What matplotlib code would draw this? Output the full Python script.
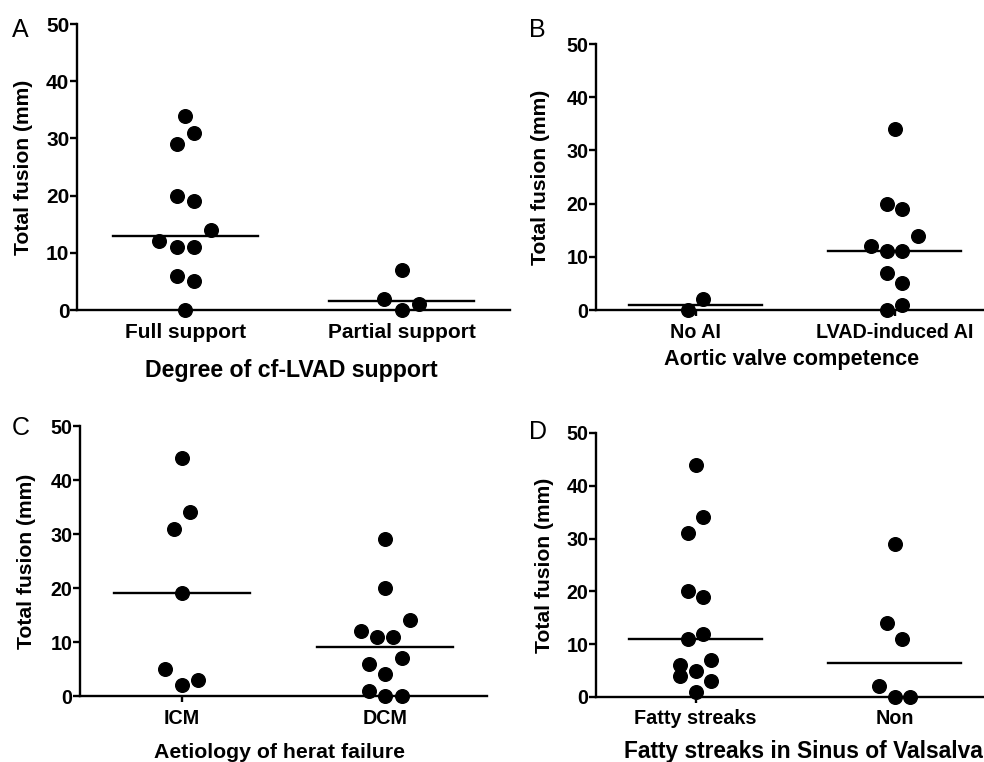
import numpy as np
import matplotlib
matplotlib.use('Agg')
import matplotlib.pyplot as plt

plt.rcParams['font.family'] = ['Liberation Sans', 'DejaVu Sans']

W, H = 984, 762

# Panel A - degree of cf-LVAD support
a_groups = ['Full support', 'Partial support']
a_full = [34, 29, 31, 20, 19, 12, 11, 11, 14, 6, 5, 0]
a_partial = [7, 2, 0, 1]

# Panel B - aortic valve competence
b_groups = ['No AI', 'LVAD-induced AI']
b_no_ai = [0, 2]
b_lvad_ai = [34, 20, 19, 12, 11, 11, 14, 7, 5, 0, 1]

# Panel C - aetiology
c_groups = ['ICM', 'DCM']
c_icm = [44, 31, 34, 19, 5, 2, 3]
c_dcm = [29, 20, 12, 11, 11, 14, 6, 4, 7, 1, 0, 0]

# Panel D - fatty streaks
d_groups = ['Fatty streaks', 'Non']
d_fatty = [44, 31, 34, 20, 19, 11, 12, 6, 5, 7, 4, 1, 3]
d_non = [29, 14, 11, 2, 0, 0]

yticks = [0, 10, 20, 30, 40, 50]


def swarm_offsets(values, step=0.08, gap=3):
    """Group close values into rows and spread each row around the centre"""
    vals = np.asarray(values, float)
    order = np.argsort(vals, kind='stable')
    clusters = []
    start = None
    for i in order:
        if start is None or vals[i] - start > gap:
            clusters.append([i])
            start = vals[i]
        else:
            clusters[-1].append(i)
    offsets = np.zeros(len(vals))
    for c in clusters:
        c = sorted(c)
        n = len(c)
        for k, i in enumerate(c):
            offsets[i] = (k - (n - 1) / 2) * step
    return offsets


def fx(px):
    return px / W


def fy(py):
    return 1 - py / H


def draw_panel(fig, box, letter, letter_pos, groups, series, xlabel, xlabel_pos,
               xlabel_size, tick_size, ylabel_pos):
    left, right, y0, y50 = box
    ax = fig.add_axes([fx(left), fy(y0), (right - left) / W, (y0 - y50) / H])
    for i, vals in enumerate(series):
        x = i + swarm_offsets(vals)
        ax.plot(x, vals, 'o', color='black', ms=9.8, clip_on=False, zorder=3)
        med = np.median(vals)
        ax.plot([i - 0.335, i + 0.335], [med, med], color='black', lw=1.7,
                clip_on=False, zorder=2)
    ax.set_xlim(-0.5, 1.5)
    ax.set_ylim(0, 50)
    ax.set_yticks(yticks)
    ax.set_xticks(range(len(groups)))
    ax.set_xticklabels(groups, fontsize=tick_size, fontweight='bold')
    ax.set_yticklabels([str(t) for t in yticks], fontsize=tick_size, fontweight='bold')
    for s in ['top', 'right']:
        ax.spines[s].set_visible(False)
    for s in ['left', 'bottom']:
        ax.spines[s].set_linewidth(1.7)
    ax.tick_params(axis='y', length=5, width=1.7, pad=0.5)
    ax.tick_params(axis='x', length=4, width=1.7, pad=5)

    fig.text(fx(letter_pos[0]), fy(letter_pos[1]), letter, fontsize=18,
             ha='left', va='baseline')
    fig.text(fx(xlabel_pos[0]), fy(xlabel_pos[1]), xlabel, fontsize=xlabel_size,
             fontweight='bold', ha='center', va='baseline')
    fig.text(fx(ylabel_pos[0]), fy(ylabel_pos[1]), 'Total fusion (mm)', fontsize=15.2,
             fontweight='bold', rotation=90, ha='center', va='center')
    return ax


fig = plt.figure(figsize=(W / 100, H / 100), dpi=100)

draw_panel(fig, (77, 510, 310, 24), 'A', (12, 37), a_groups, [a_full, a_partial],
           'Degree of cf-LVAD support', (291, 377), 16.7, 15, (24, 167))
draw_panel(fig, (596, 994, 310, 44), 'B', (529, 37), b_groups, [b_no_ai, b_lvad_ai],
           'Aortic valve competence', (792, 365), 15.6, 14.2, (541, 177))
draw_panel(fig, (80, 487, 696, 426), 'C', (12, 435), c_groups, [c_icm, c_dcm],
           'Aetiology of herat failure', (280, 758), 15.3, 14.2, (27, 561))
draw_panel(fig, (596, 994, 697, 433), 'D', (529, 439), d_groups, [d_fatty, d_non],
           'Fatty streaks in Sinus of Valsalva', (803, 758), 16.4, 14.2, (544, 565))

fig.savefig('out.png', dpi=100)
